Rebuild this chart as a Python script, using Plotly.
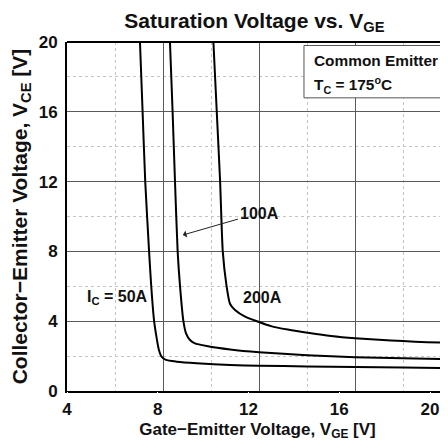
import plotly.graph_objects as go

# Gate-emitter voltage [V] and collector-emitter voltage [V] per collector current
vge_50a = [7.04, 7.15, 7.26, 7.42, 7.51, 7.63, 7.74, 7.83, 7.94, 8.12, 8.57, 9.4, 10.8, 12.0, 14.0, 16.0, 18.0, 20.0]
vce_50a = [20.0, 16.0, 12.0, 8.0, 6.0, 4.0, 3.0, 2.35, 1.97, 1.78, 1.68, 1.59, 1.49, 1.45, 1.41, 1.37, 1.34, 1.31]

vge_100a = [8.29, 8.40, 8.50, 8.61, 8.71, 8.85, 8.96, 9.125, 9.33, 9.82, 10.8, 12.0, 14.0, 16.0, 18.0, 20.0]
vce_100a = [20.0, 16.0, 12.0, 8.0, 6.0, 4.0, 3.3, 2.92, 2.73, 2.58, 2.38, 2.22, 2.05, 1.94, 1.87, 1.82]

vge_200a = [10.1, 10.24, 10.38, 10.49, 10.65, 10.79, 11.0, 11.42, 11.97, 12.5, 13.2, 14.1, 15.0, 16.0, 17.0, 18.0, 19.0, 20.0]
vce_200a = [20.0, 16.0, 12.0, 8.0, 6.0, 5.0, 4.64, 4.26, 3.97, 3.72, 3.52, 3.32, 3.15, 3.02, 2.93, 2.86, 2.8, 2.75]

x_ticks = [4, 8, 12, 16, 20]
y_ticks = [0, 4, 8, 12, 16, 20]

FONT = "Liberation Sans, Arial, sans-serif"

fig = go.Figure()
for xs, ys in [(vge_50a, vce_50a), (vge_100a, vce_100a), (vge_200a, vce_200a)]:
    fig.add_trace(go.Scatter(x=xs, y=ys, mode="lines",
                             line=dict(color="black", width=2, shape="spline", smoothing=0.6),
                             showlegend=False, hoverinfo="skip"))

# invisible trace to carry the tick-label axis
fig.add_trace(go.Scatter(x=[4], y=[0], xaxis="x2", mode="markers",
                         marker=dict(opacity=0), showlegend=False, hoverinfo="skip"))

grid_major = "#5a5a5a"
grid_minor = "#c4c4c4"
tick_font = dict(size=17, family=FONT, weight="bold", color="#111")

# the page body keeps its default 8 px margin, so the figure is 8 px smaller
fig.update_layout(
    width=440, height=437,
    margin=dict(l=59, r=0, t=34, b=54, autoexpand=False),
    paper_bgcolor="white", plot_bgcolor="white",
    font=dict(family=FONT, color="black"),
    title=dict(text="Saturation Voltage vs. V<sub>GE</sub>", x=0.56, xanchor="center",
               y=0.972, yanchor="middle",
               font=dict(size=21, family=FONT, weight="bold", color="#111")),
    xaxis=dict(range=[4, 19.875], showticklabels=False, tick0=4, dtick=4, automargin=False,
               showgrid=True, gridcolor=grid_major, gridwidth=1,
               minor=dict(dtick=2, tick0=4, showgrid=True, gridcolor=grid_minor,
                          griddash="dot", gridwidth=1),
               showline=True, linecolor="black", linewidth=2, zeroline=False),
    xaxis2=dict(overlaying="x", side="bottom", range=[4, 20.79], tickvals=x_ticks,
                automargin=False, showgrid=False, zeroline=False, showline=False,
                ticks="outside", ticklen=3, tickcolor="white",
                tickfont=tick_font,
                title=dict(text="Gate\u2212Emitter Voltage, V<sub>GE</sub> [V]", standoff=4,
                           font=dict(size=17, family=FONT, weight="bold", color="#111"))),
    yaxis=dict(range=[0, 20], tickvals=y_ticks, automargin=False,
               showgrid=True, gridcolor=grid_major, gridwidth=1,
               minor=dict(dtick=2, tick0=0, showgrid=True, gridcolor=grid_minor,
                          griddash="dot", gridwidth=1),
               showline=True, linecolor="black", linewidth=2, zeroline=False,
               ticks="outside", ticklen=4, tickcolor="white",
               tickfont=tick_font,
               title=dict(text="Collector\u2212Emitter Voltage, V<sub>CE</sub> [V]", standoff=7,
                          font=dict(size=21, family=FONT, weight="bold", color="#111"))),
)

# top border of the plot frame
fig.add_shape(type="line", xref="paper", yref="paper", x0=0, x1=1, y0=1, y1=1,
              line=dict(color="black", width=2))

# condition box
fig.add_shape(type="rect", xref="paper", yref="paper", x0=0.622, x1=0.99, y0=0.84, y1=0.99,
              line=dict(color="#555", width=1), fillcolor="white", layer="above")
box_font = dict(size=15.4, family=FONT, weight="bold", color="#111")
fig.add_annotation(xref="paper", yref="paper", x=0.643, y=0.948, xanchor="left", yanchor="middle",
                   text="Common Emitter", showarrow=False, font=box_font)
fig.add_annotation(xref="paper", yref="paper", x=0.643, y=0.878, xanchor="left", yanchor="middle",
                   text="T<sub>C</sub> = 175<sup>o</sup>C", showarrow=False, font=box_font)

lab_font = dict(size=16, family=FONT, weight="bold", color="#111")
fig.add_annotation(x=8.83, y=8.94, ax=12.0, ay=10.2, axref="x", ayref="y",
                   text="100A", showarrow=True, arrowhead=1, arrowsize=1.2, arrowwidth=1,
                   arrowcolor="#222", font=lab_font)
fig.add_annotation(x=12.15, y=5.33, text="200A", showarrow=False, font=lab_font)
fig.add_annotation(x=6.1, y=5.33, text="I<sub>C</sub> = 50A", showarrow=False, font=lab_font)

fig.write_html("out.html", config={"displayModeBar": False})
